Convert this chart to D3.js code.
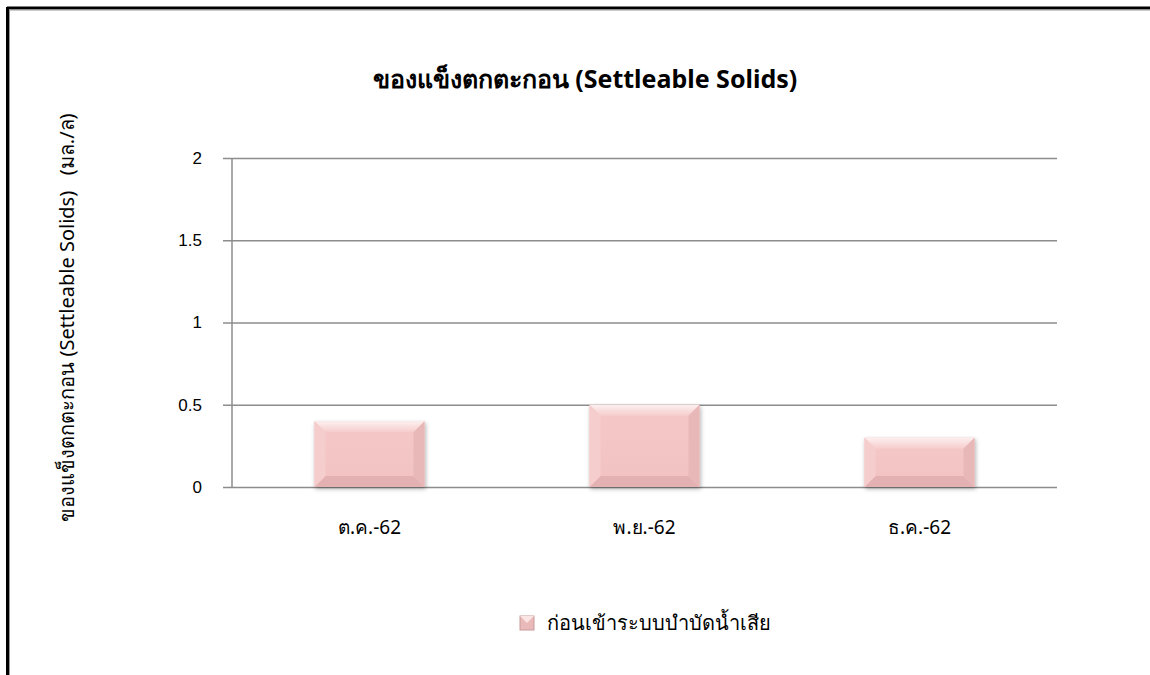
<!DOCTYPE html>
<html>
<head>
<meta charset="utf-8">
<script src="https://cdn.jsdelivr.net/npm/d3@7"></script>
<style>
  html, body { margin: 0; padding: 0; background: #fff; }
  svg { display: block; font-family: "Noto Sans", "DejaVu Sans", sans-serif; }
</style>
</head>
<body>
<div id="chart"></div>
<script>
const width = 1150;
const height = 675;

const months = ["ต.ค.-62", "พ.ย.-62", "ธ.ค.-62"];
const values = [0.4, 0.5, 0.3];
const yTicks = [0, 0.5, 1, 1.5, 2];
const seriesName = "ก่อนเข้าระบบบำบัดน้ำเสีย";
const title = "ของแข็งตกตะกอน (Settleable Solids)";
const yTitle = "ของแข็งตกตะกอน (Settleable Solids)   (มล./ล)";

const margin = { top: 158, right: 93, bottom: 188, left: 232 };

const svg = d3
  .select("#chart")
  .append("svg")
  .attr("width", width)
  .attr("height", height);

const defs = svg.append("defs");
const grad = defs.append("linearGradient").attr("id", "barFill").attr("x1", 0).attr("y1", 0).attr("x2", 0).attr("y2", 1);
grad.append("stop").attr("offset", "0%").attr("stop-color", "#f5c8c8");
grad.append("stop").attr("offset", "100%").attr("stop-color", "#f2c2c2");
const topGrad = defs.append("linearGradient").attr("id", "topBevel").attr("x1", 0).attr("y1", 0).attr("x2", 0).attr("y2", 1);
topGrad.append("stop").attr("offset", "0%").attr("stop-color", "#fdf0f0");
topGrad.append("stop").attr("offset", "100%").attr("stop-color", "#f6cccc");
const shadow = defs.append("filter").attr("id", "shadow").attr("x", "-10%").attr("y", "-10%").attr("width", "130%").attr("height", "130%");
shadow.append("feDropShadow").attr("dx", 1).attr("dy", 2).attr("stdDeviation", 2).attr("flood-color", "#000").attr("flood-opacity", 0.3);

// frame
svg.append("line").attr("x1", 7).attr("x2", width).attr("y1", 8).attr("y2", 8).attr("stroke", "#000").attr("stroke-width", 3);
svg.append("line").attr("x1", 7.5).attr("x2", 7.5).attr("y1", 7).attr("y2", height).attr("stroke", "#000").attr("stroke-width", 3);
svg.append("line").attr("x1", 9).attr("x2", width).attr("y1", 10).attr("y2", 10).attr("stroke", "#999").attr("stroke-width", 1);
svg.append("line").attr("x1", 9.5).attr("x2", 9.5).attr("y1", 10).attr("y2", height).attr("stroke", "#999").attr("stroke-width", 1);

const x = d3
  .scaleBand()
  .domain(months)
  .range([margin.left, width - margin.right])
  .paddingInner(0.6)
  .paddingOuter(0.3);

const y = d3
  .scaleLinear()
  .domain([0, 2])
  .range([height - margin.bottom, margin.top]);

// gridlines + y axis
const yAxis = svg
  .append("g")
  .attr("transform", `translate(${margin.left},0)`)
  .call(
    d3.axisLeft(y)
      .tickValues(yTicks)
      .tickSize(-(width - margin.right - margin.left))
      .tickFormat((d) => d)
      .tickPadding(30)
  );
yAxis.select(".domain").remove();
yAxis.selectAll(".tick line").attr("stroke", "#8c8c8c").attr("stroke-width", 1.5).attr("x1", -9);
yAxis.selectAll(".tick text").attr("fill", "#000").attr("font-size", 17);

svg.append("line")
  .attr("x1", margin.left).attr("x2", margin.left)
  .attr("y1", y(2)).attr("y2", y(0))
  .attr("stroke", "#8c8c8c").attr("stroke-width", 1.5);

// bars with bevel
const bars = svg
  .selectAll(".bar")
  .data(months.map((m, i) => ({ m, v: values[i] })))
  .join("g")
  .attr("class", "bar")
  .attr("filter", "url(#shadow)");

bars.append("rect")
  .attr("x", (d) => x(d.m))
  .attr("y", (d) => y(d.v))
  .attr("width", x.bandwidth())
  .attr("height", (d) => y(0) - y(d.v))
  .attr("fill", "url(#barFill)");

const bev = 11;
function bevel(d, side) {
  const x0 = x(d.m), x1 = x0 + x.bandwidth();
  const y0 = y(d.v), y1 = y(0);
  const b = Math.min(bev, (y1 - y0) / 2);
  if (side === "top") return [[x0, y0], [x1, y0], [x1 - b, y0 + b], [x0 + b, y0 + b]];
  if (side === "bottom") return [[x0, y1], [x1, y1], [x1 - b, y1 - b], [x0 + b, y1 - b]];
  if (side === "left") return [[x0, y0], [x0 + b, y0 + b], [x0 + b, y1 - b], [x0, y1]];
  return [[x1, y0], [x1 - b, y0 + b], [x1 - b, y1 - b], [x1, y1]];
}
const bevelFill = { top: "url(#topBevel)", bottom: "#e3b1b1", left: "#f6cdcd", right: "#e8b8b8" };
["top", "bottom", "left", "right"].forEach((side) => {
  bars.append("polygon")
    .attr("points", (d) => bevel(d, side).map((p) => p.join(",")).join(" "))
    .attr("fill", bevelFill[side]);
});

// x labels
svg.append("g")
  .selectAll("text")
  .data(months)
  .join("text")
  .attr("x", (d) => x(d) + x.bandwidth() / 2)
  .attr("y", 534)
  .attr("text-anchor", "middle")
  .attr("font-size", 19)
  .text((d) => d);

// title
svg.append("text")
  .attr("x", 585)
  .attr("y", 88)
  .attr("text-anchor", "middle")
  .attr("font-size", 25)
  .attr("font-weight", "bold")
  .text(title);

// y title
svg.append("text")
  .attr("transform", `translate(74,${(105 + 530) / 2}) rotate(-90)`)
  .attr("text-anchor", "middle")
  .attr("font-size", 20)
  .attr("xml:space", "preserve")
  .style("white-space", "pre")
  .text(yTitle);

// legend
const legend = svg.append("g").attr("transform", "translate(520,616)");
legend.append("rect").attr("width", 14).attr("height", 14).attr("fill", "#eab9b9").attr("stroke", "#c99a9a");
legend.append("polygon").attr("points", "0,0 14,0 7,7").attr("fill", "#fbe4e4");
legend.append("text")
  .attr("x", 27)
  .attr("y", 14)
  .attr("font-size", 20)
  .text(seriesName);
</script>
</body>
</html>
